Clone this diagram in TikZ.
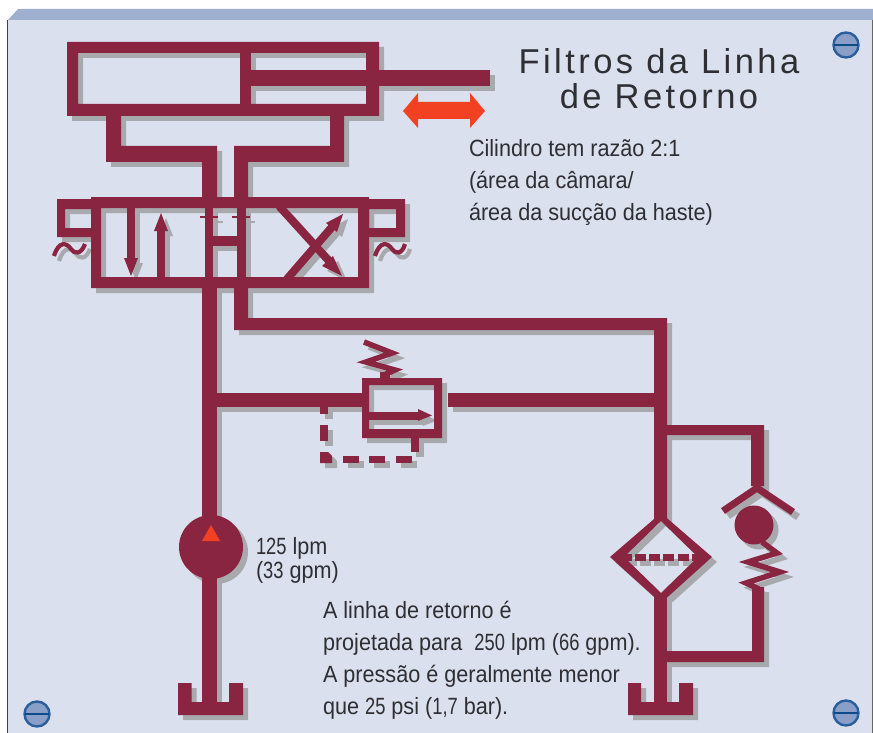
\documentclass[tikz,border=0pt]{standalone}
\usepackage{fontspec}
\setmainfont{Liberation Sans}
\newfontfamily\titlefont[LetterSpace=10]{Liberation Sans}
\newfontfamily\bodyfont[FakeStretch=0.92]{Liberation Sans}
\newfontfamily\digitfont[FakeStretch=0.78]{Liberation Sans}
\newcommand{\dg}[1]{{\digitfont #1}}
\definecolor{wine}{HTML}{8A2541}
\definecolor{shade}{HTML}{A8A9AD}
\definecolor{plate}{HTML}{DBE0EE}
\definecolor{band}{HTML}{9FAFCF}
\definecolor{hot}{HTML}{F24122}
\definecolor{screwfill}{HTML}{8A9FC8}
\definecolor{screwring}{HTML}{2A5F9E}
\definecolor{screwbar}{HTML}{0F4A8A}
\definecolor{txt}{HTML}{2E2E33}
\colorlet{ink}{wine}
\newcommand{\Rc}[4]{\fill[ink] (#1,#2) rectangle (#3,#4);}
\newcommand{\circuit}{%
 % cylinder
 \fill[ink,even odd rule] (67,42) rectangle (379,116) (78,53) rectangle (366,104);
 \Rc{240}{53}{251}{104}
 \Rc{251}{70}{490}{86}
 % ports
 \fill[ink] (106,116) -- (121,116) -- (121,146) -- (217,146) -- (217,198) -- (202,198) -- (202,162) -- (106,162) -- cycle;
 \fill[ink] (330,116) -- (344,116) -- (344,162) -- (248,162) -- (248,198) -- (234,198) -- (234,146) -- (330,146) -- cycle;
 % valve
 \fill[ink,even odd rule] (91,197) rectangle (369,288) (101,208) rectangle (358,277);
 \fill[ink,even odd rule] (57,199) rectangle (91,237) (65,209) rectangle (91,228);
 \fill[ink,even odd rule] (369,199) rectangle (405,237) (369,209) rectangle (396,228);
 % straight arrows
 \Rc{127}{208}{135}{259}
 \fill[ink] (124,258) -- (138,258) -- (131,276) -- cycle;
 \Rc{157}{277}{165}{229}
 \fill[ink] (154,231) -- (168,231) -- (161,213) -- cycle;
 % centre
 \Rc{205}{208}{213}{277}
 \Rc{237}{208}{246}{277}
 \Rc{213}{236}{237}{246}
 \Rc{200}{216}{218}{218}
 \Rc{232}{216}{250}{218}
 % crossing arrows
 \draw[ink,line width=8] (279,206) -- (329,261);
 \fill[ink] (342,276) -- (322,266) -- (333,256) -- cycle;
 \draw[ink,line width=8] (287,279) -- (332,227);
 \fill[ink] (343,214) -- (326,223) -- (337,232) -- cycle;
 % solenoids
 \draw[ink,line width=4.2] (54,256) .. controls (59,240) and (67,243) .. (71,249) .. controls (74,254) and (81,255) .. (85,244);
 \draw[ink,line width=4.2] (375,256) .. controls (380,240) and (388,243) .. (392,249) .. controls (395,254) and (402,255) .. (405,244);
 % main lines
 \Rc{202}{288}{217}{715}
 \fill[ink] (234,288) -- (248,288) -- (248,318) -- (667,318) -- (667,520) -- (654,520) -- (654,330) -- (234,330) -- cycle;
 \Rc{217}{393}{362}{407}
 \Rc{448}{393}{654}{407}
 % relief valve
 \fill[ink,even odd rule] (362,378) rectangle (442,438) (369,385) rectangle (434,429);
 \Rc{369}{412}{419}{420}
 \fill[ink] (418,409) -- (432,415.5) -- (418,421) -- cycle;
 \Rc{380}{372}{390}{378}
 \draw[ink,line width=5.5,miter limit=10] (364,342) -- (392,353) -- (366,362) -- (395,370) -- (384,375);
 % dashed pilot
 \Rc{320}{407}{328}{414}
 \Rc{320}{425}{328}{441}
 \fill[ink] (320,452) -- (328,452) -- (332,456) -- (332,463) -- (320,463) -- cycle;
 \Rc{343}{456}{359}{463}
 \Rc{369}{456}{385}{463}
 \Rc{396}{456}{412}{463}
 \Rc{411}{438}{419}{452}
 % pump
 \fill[ink] (211,547) circle[radius=32];
 % tanks
 \fill[ink] (178,683) -- (191.5,683) -- (191.5,702) -- (229,702) -- (229,683) -- (243,683) -- (243,715) -- (178,715) -- cycle;
 \fill[ink] (628,683) -- (641,683) -- (641,702) -- (679,702) -- (679,683) -- (693,683) -- (693,715) -- (628,715) -- cycle;
 % filter
 \fill[ink,even odd rule] (661,513) -- (712,557) -- (661,603) -- (610,557) -- cycle (661,521) -- (698,557) -- (661,593) -- (624,557) -- cycle;
 \Rc{624}{554}{632}{561}
 \Rc{635}{554}{646}{561}
 \Rc{649}{554}{660}{561}
 \Rc{663}{554}{674}{561}
 \Rc{678}{554}{689}{561}
 \Rc{692}{554}{698}{561}
 \Rc{654}{594}{667}{715}
 % bypass check
 \fill[ink] (667,425) -- (764,425) -- (764,486) -- (751,486) -- (751,435) -- (667,435) -- cycle;
 \draw[ink,line width=7,miter limit=10] (723,511) -- (757,488) -- (793,512);
 \fill[ink] (754,525) circle[radius=19.5];
 \draw[ink,line width=5.5,miter limit=10] (762,542) -- (777,553) -- (748,562) -- (780,572) -- (746,583) -- (759,589);
 \fill[ink] (752,587) -- (764,587) -- (764,662) -- (667,662) -- (667,651) -- (752,651) -- cycle;
}
\newcommand{\screw}[2]{%
 \fill[screwfill,draw=screwring,line width=2.4] (#1,#2) circle[radius=12.5];
 \fill[screwbar] (#1-12,#2-1.2) rectangle (#1+12,#2+1.2);
}
\begin{document}
\begin{tikzpicture}[x=1pt,y=-1pt,
  every node/.style={inner sep=0pt,outer sep=0pt,text=txt},
  bodytext/.style={font=\bodyfont\fontsize{23.5}{32}\selectfont,align=left,anchor=north west},
  titletext/.style={font=\titlefont\fontsize{34.5}{35}\selectfont,align=center}]
\useasboundingbox (0,0) rectangle (873,733);
\fill[white] (0,0) rectangle (873,733);
% plate
\fill[band] (8,20) -- (18,9) -- (873,9) -- (873,20) -- cycle;
\fill[plate] (8,20) rectangle (872,733);
\draw[black!75,line width=1] (7.5,20) -- (7.5,733);
\draw[black!60,line width=0.8] (872,20) -- (872,733);
\screw{846}{45}
\screw{37}{714}
\screw{846}{713}
% shadow, then circuit
\begin{scope}[shift={(5,5)}]
 \colorlet{ink}{shade}
 \circuit
\end{scope}
\colorlet{ink}{wine}
\circuit
\fill[hot] (211,525) -- (220,541) -- (202,541) -- cycle;
% motion arrow
\fill[hot] (403,111) -- (418,93) -- (418,102) -- (470,102) -- (470,93) -- (485,111) -- (470,128) -- (470,119) -- (418,119) -- (418,128) -- cycle;
% texts
\node[titletext] (title) at (659,79) {Filtros da Linha\\de Retorno};
\node[bodytext] (ratio) at (469,139) {Cilindro tem razão 2:1\\(área da câmara/\\área da sucção da haste)};
\node[bodytext,font=\bodyfont\fontsize{23.5}{24}\selectfont] (flow) at (256,537) {\dg{125} lpm\\(\dg{33} gpm)};
\node[bodytext] (note) at (323,601) {A linha de retorno é\\projetada para\ \ \dg{250} lpm (\dg{66} gpm).\\A pressão é geralmente menor\\que \dg{25} psi (\dg{1,7} bar).};
\end{tikzpicture}
\end{document}
